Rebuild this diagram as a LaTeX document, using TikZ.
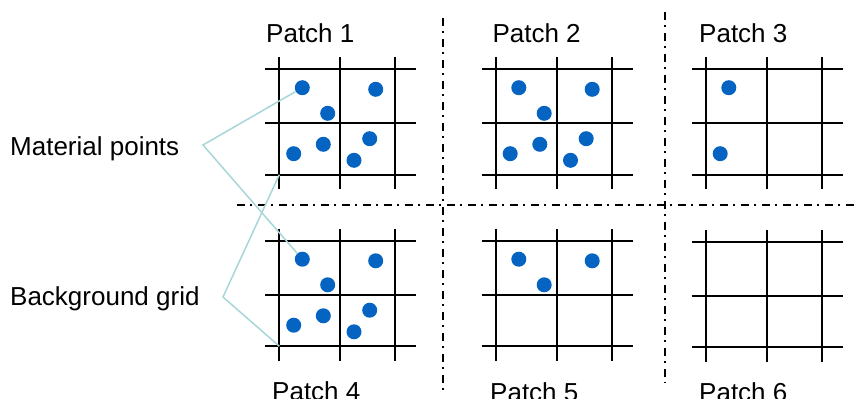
\documentclass[tikz,border=0pt]{standalone}
\usepackage{fontspec}
\setmainfont{Liberation Sans}
\definecolor{dotblue}{RGB}{5,99,193}
\definecolor{leader}{RGB}{168,214,216}
\tikzset{
  gridline/.style={line width=1.8pt, black},
  mpdot/.style={circle, fill=dotblue, draw=none, minimum size=15pt, inner sep=0pt},
  lbl/.style={anchor=base west, inner sep=0pt, font=\fontsize{26}{31}\selectfont},
  divider/.style={line width=1.6pt, black, dash pattern=on 8pt off 5pt on 2pt off 6pt},
  leaderline/.style={line width=1.5pt, leader}
}
\newcommand{\patchgrid}{%
  \foreach \gx in {279.3,340.3,395.3} {\draw[gridline] (\gx,57.3) -- (\gx,189.3);}
  \foreach \gy in {69.3,123.3,174.7} {\draw[gridline] (265,\gy) -- (416,\gy);}
}
\begin{document}
\begin{tikzpicture}[x=1pt,y=-1pt]
\useasboundingbox (0,0) rectangle (857,399);
% dividers
\coordinate (hl) at (237,205);
\coordinate (hr) at (857,205);
\coordinate (v1t) at (443,18);
\coordinate (v1b) at (443,392);
\coordinate (v2t) at (665,12);
\coordinate (v2b) at (665,383);
\draw[divider] (hl) -- (hr);
\draw[divider] (v1t) -- (v1b);
\draw[divider] (v2t) -- (v2b);
% Patch 1
\begin{scope}[shift={(0,0)}]
  \patchgrid
  \coordinate (g1) at (279.3,174.7);
  \node[mpdot] (p1a) at (302.3,87.7) {};
  \node[mpdot] (p1b) at (375.7,89.3) {};
  \node[mpdot] (p1c) at (327.7,113.3) {};
  \node[mpdot] (p1d) at (293.7,153.7) {};
  \node[mpdot] (p1e) at (323.3,144.3) {};
  \node[mpdot] (p1f) at (369.7,138.7) {};
  \node[mpdot] (p1g) at (354,160.3) {};
\end{scope}
% Patch 2
\begin{scope}[shift={(216.5,0)}]
  \patchgrid
  \node[mpdot] (p2a) at (302.3,87.7) {};
  \node[mpdot] (p2b) at (375.7,89.3) {};
  \node[mpdot] (p2c) at (327.7,113.3) {};
  \node[mpdot] (p2d) at (293.7,153.7) {};
  \node[mpdot] (p2e) at (323.3,144.3) {};
  \node[mpdot] (p2f) at (369.7,138.7) {};
  \node[mpdot] (p2g) at (354,160.3) {};
\end{scope}
% Patch 3
\begin{scope}[shift={(426.5,0)}]
  \patchgrid
  \node[mpdot] (p3a) at (302.3,87.7) {};
  \node[mpdot] (p3d) at (293.7,153.7) {};
\end{scope}
% Patch 4
\begin{scope}[shift={(0,171.5)}]
  \patchgrid
  \coordinate (g4) at (279.3,174.7);
  \node[mpdot] (p4a) at (302.3,87.7) {};
  \node[mpdot] (p4b) at (375.7,89.3) {};
  \node[mpdot] (p4c) at (327.7,113.3) {};
  \node[mpdot] (p4d) at (293.7,153.7) {};
  \node[mpdot] (p4e) at (323.3,144.3) {};
  \node[mpdot] (p4f) at (369.7,138.7) {};
  \node[mpdot] (p4g) at (354,160.3) {};
\end{scope}
% Patch 5
\begin{scope}[shift={(216.5,171.5)}]
  \patchgrid
  \node[mpdot] (p5a) at (302.3,87.7) {};
  \node[mpdot] (p5b) at (375.7,89.3) {};
  \node[mpdot] (p5c) at (327.7,113.3) {};
\end{scope}
% Patch 6
\begin{scope}[shift={(426.5,172.5)}]
  \patchgrid
\end{scope}
% titles
\node[lbl] (t1) at (266,42.3) {Patch 1};
\node[lbl] (t2) at (492.3,42) {Patch 2};
\node[lbl] (t3) at (699,42) {Patch 3};
\node[lbl] (t4) at (272,400) {Patch 4};
\node[lbl] (t5) at (490,401) {Patch 5};
\node[lbl] (t6) at (699,401) {Patch 6};
% side labels
\node[lbl] (mp) at (10,155) {Material points};
\node[lbl] (bg) at (10,305) {Background grid};
\coordinate (mpx) at (203,145);
\coordinate (bgx) at (223,297);
\draw[leaderline] (p1a) -- (mpx) -- (p4a);
\draw[leaderline] (g1) -- (bgx) -- (g4);
\end{tikzpicture}
\end{document}
